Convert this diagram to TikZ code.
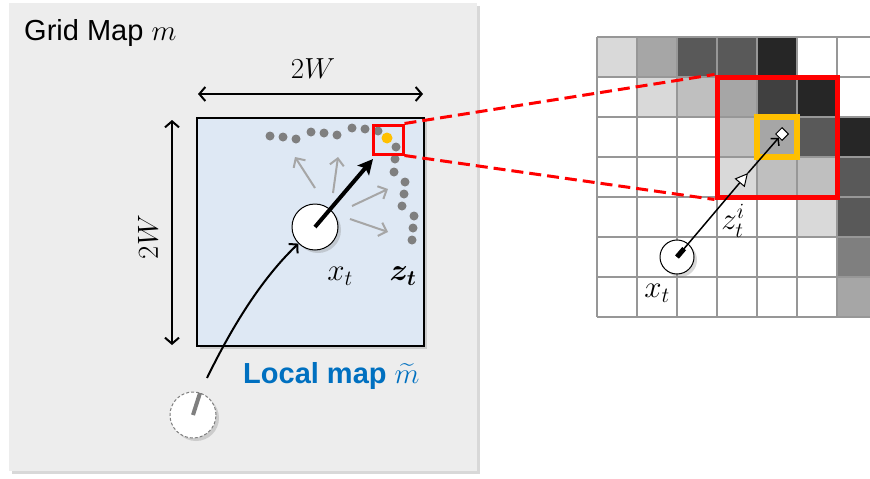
\RequirePackage{fix-cm}
\documentclass[tikz,border=0pt]{standalone}
\usepackage{amsmath,bm}
\usepackage{fontspec}
\setmainfont{Liberation Sans}
\usetikzlibrary{arrows.meta,shadows,shapes.geometric,calc}
\definecolor{panelgray}{HTML}{EDEDED}
\definecolor{localblue}{HTML}{DEE8F4}
\definecolor{dotgray}{HTML}{7F7F7F}
\definecolor{arrgray}{HTML}{A6A6A6}
\definecolor{gridline}{HTML}{979797}
\definecolor{orangeY}{HTML}{FFC000}
\definecolor{txtblue}{HTML}{0070C0}
\definecolor{cA}{HTML}{D9D9D9}
\definecolor{cB}{HTML}{BFBFBF}
\definecolor{cC}{HTML}{A6A6A6}
\definecolor{cD}{HTML}{7F7F7F}
\definecolor{cE}{HTML}{595959}
\definecolor{cF}{HTML}{404040}
\definecolor{cG}{HTML}{262626}
\begin{document}
\begin{tikzpicture}[x=1pt,y=-1pt,
  lbl/.style={font=\fontsize{29}{33}\selectfont, inner sep=0pt},
  mlbl/.style={font=\fontsize{31}{35}\selectfont, inner sep=0pt},
  dotnode/.style={circle, fill=dotgray, minimum size=9pt, inner sep=0pt},
  shad/.style={drop shadow={opacity=0.3, shadow xshift=3pt, shadow yshift=-3pt}},
  robot/.style={circle, draw=black, fill=white, line width=1pt, inner sep=0pt, shad},
  grayarrow/.style={arrgray, line width=2pt, -{Straight Barb[length=7pt,width=14pt]}},
  dimarrow/.style={black, line width=2pt, {Straight Barb[length=6pt,width=14pt]}-{Straight Barb[length=6pt,width=14pt]}},
  redbox/.style={draw=red, inner sep=0pt, fill=none},
  reddash/.style={red, line width=3pt, dash pattern=on 12pt off 6pt}
]
\useasboundingbox (0,0) rectangle (870,479);
\fill[white] (0,0) rectangle (870,479);

% ---------- left panel ----------
\path[fill=panelgray, shad] (9,3) rectangle (477,471);
\node[lbl, anchor=base west] (gm) at (24,40) {Grid Map $m$};

\node[draw=black, line width=1.5pt, fill=localblue, minimum width=227pt, minimum height=228pt, inner sep=0pt, shad] (lm) at (310.5,232) {};

% dimension arrows
\coordinate (hL) at (198,94);
\coordinate (hR) at (423,94);
\draw[dimarrow] (hL) -- (hR);
\node[lbl] (wtop) at (313,69) {$2W$};
\coordinate (vT) at (172,120);
\coordinate (vB) at (172,345);
\draw[dimarrow] (vT) -- (vB);
\node[lbl, rotate=90] (wleft) at (148,237) {$2W$};

% scan points
\foreach \px/\py [count=\k] in {270/136,283/137,296/139,311/132,324/133,337/135,352/128,365/129,378/131,
   396/147,395/159,394/172,405/182,404/194,402/206,414/216,413/228,412/240}
  \node[dotnode] (d\k) at (\px,\py) {};
\node[circle, fill=orangeY, minimum size=11pt, inner sep=0pt] (hit) at (387,138) {};

% gray arrows
\coordinate (g1s) at (315,188); \coordinate (g1e) at (295,157);
\coordinate (g2s) at (333,193); \coordinate (g2e) at (338,157);
\coordinate (g3s) at (352,206); \coordinate (g3e) at (388,189);
\coordinate (g4s) at (350,219); \coordinate (g4e) at (388,232);
\draw[grayarrow] (g1s) -- (g1e);
\draw[grayarrow] (g2s) -- (g2e);
\draw[grayarrow] (g3s) -- (g3e);
\draw[grayarrow] (g4s) -- (g4e);

% robot
\node[robot, minimum size=46pt] (xt) at (315,227) {};
\coordinate (ztip) at (373,159);
\draw[line width=4pt, -{Stealth[length=15pt,width=15pt,inset=3pt]}] (xt.center) -- (ztip);

\node[redbox, line width=3pt, minimum width=30pt, minimum height=29pt] (sbox) at (388,139.5) {};

\node[mlbl] (xtl) at (340,276) {$x_t$};
\node[mlbl] (ztl) at (403,276) {$\bm{z_t}$};

\node[lbl, anchor=base west, text=txtblue] (lml) at (243,383) {\bfseries Local map $\widetilde{m}$};

% previous pose
\node[circle, draw=dotgray, dash pattern=on 3pt off 2pt, fill=white, line width=1pt, minimum size=46pt, inner sep=0pt, shad] (xp) at (193,415) {};
\coordinate (xph) at (200,393);
\draw[dotgray, line width=4pt] (xp.center) -- (xph);
\coordinate (cs) at (207,378);
\draw[line width=2pt, -{Straight Barb[length=6pt,width=13pt]}] (cs) .. controls (228,335) and (258,282) .. (xt.south west);

% ---------- right grid ----------
\begin{scope}
\clip (590,30) rectangle (870,325);
\foreach \r/\row in {0/{cA,cC,cE,cE,cG,white,white},
                      1/{white,cA,cB,cC,cF,cG,white},
                      2/{white,white,white,cB,cC,cE,cG},
                      3/{white,white,white,cA,cB,cB,cE},
                      4/{white,white,white,white,white,cA,cE},
                      5/{white,white,white,white,white,white,cD},
                      6/{white,white,white,white,white,white,cC}}
  \foreach \col [count=\ci from 0] in \row
    \fill[\col] (597+40*\ci,37+40*\r) rectangle ++(40,40);
\foreach \i in {0,...,7}
  \draw[gridline, line width=1.3pt] (597+40*\i,37) -- (597+40*\i,317);
\foreach \j in {0,...,7}
  \draw[gridline, line width=1.3pt] (597,37+40*\j) -- (877,37+40*\j);
\end{scope}

\node[redbox, line width=5pt, minimum width=120pt, minimum height=120pt] (bbox) at (777,137) {};
\draw[reddash] (sbox.north east) -- (bbox.north west);
\draw[reddash] (sbox.south east) -- (bbox.south west);

\node[redbox, draw=orangeY, line width=6pt, minimum width=40pt, minimum height=40pt] (obox) at (777,137) {};

\node[diamond, draw=black, fill=white, line width=1pt, minimum size=13pt, inner sep=0pt] (dia) at (782,134) {};
\node[robot, minimum size=34pt] (xr) at (677,257) {};
\coordinate (tri) at (748,173);
\draw[line width=5pt] (xr.center) -- ($(xr.center)!11pt!(dia)$);
\draw[line width=1.5pt, -{Triangle[length=13pt,width=13pt,fill=white,line width=1pt]}] (xr.center) -- (tri);
\draw[line width=1.5pt, -{Straight Barb[length=5pt,width=11pt]}] (tri) -- (dia);

\node[mlbl] (zil) at (733,221) {$z_t^i$};
\node[mlbl] (xrl) at (657,293) {$x_t$};
\end{tikzpicture}
\end{document}
